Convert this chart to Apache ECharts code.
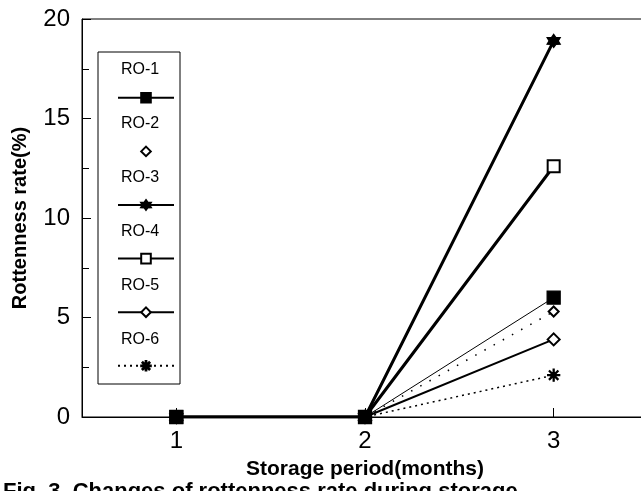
<!DOCTYPE html>
<html>
<head>
<meta charset="utf-8">
<script src="https://cdn.jsdelivr.net/npm/echarts@6/dist/echarts.min.js"></script>
<style>
  html, body { margin: 0; padding: 0; background: #fff; }
  #chart { width: 641px; height: 491px; }
</style>
</head>
<body>
<div id="chart"></div>
<script>
// Storage period in months
const months = [1, 2, 3];
// Rottenness rate (%) per sample
const seriesNames = ['RO-1', 'RO-2', 'RO-3', 'RO-4', 'RO-5', 'RO-6'];
const ro1 = [0, 0, 6.0];
const ro2 = [0, 0, 5.3];
const ro3 = [0, 0, 18.9];
const ro4 = [0, 0, 12.6];
const ro5 = [0, 0, 3.9];
const ro6 = [0, 0, 2.1];
const yTicks = [0, 5, 10, 15, 20];
const xTicks = [1, 2, 3];
const caption = 'Fig. 3  Changes of rottenness rate during storage';

const FONT = '"Liberation Sans", Arial, sans-serif';
const INK = '#000';

const starPath = 'path://M10 0L13 4.8L18.66 5L16 10L18.66 15L13 15.2L10 20L7 15.2L1.34 15L4 10L1.34 5L7 4.8Z';
const asteriskPath = 'path://M0 9.2H20V10.8H0Z M9.2 0H10.8V20H9.2Z ' +
  'M3.5 2.36L17.64 16.5L16.5 17.64L2.36 3.5Z M17.64 3.5L3.5 17.64L2.36 16.5L16.5 2.36Z';

function pairs(vals) { return months.map((m, i) => [m, vals[i]]); }

const styles = [
  { data: ro1, symbol: 'rect', size: 13, width: 1, type: 'solid', z: 10 },
  { data: ro2, symbol: 'emptyDiamond', size: 10, width: 1.5, type: [1.5, 9], z: 3 },
  { data: ro3, symbol: starPath, size: 13, width: 3, type: 'solid', z: 4 },
  { data: ro4, symbol: 'emptyRect', size: 12, width: 3, type: 'solid', z: 5 },
  { data: ro5, symbol: 'emptyDiamond', size: 12, width: 2, type: 'solid', z: 6 },
  { data: ro6, symbol: asteriskPath, size: 12, width: 1.5, type: [2, 4], z: 7 }
];

const series = styles.map((s, i) => ({
  name: seriesNames[i],
  type: 'line',
  data: pairs(s.data),
  symbol: s.symbol,
  symbolSize: s.size,
  showAllSymbol: true,
  z: s.z,
  lineStyle: { color: INK, width: s.width, type: s.type },
  itemStyle: { color: INK, borderColor: INK, borderWidth: 1.3 },
  emphasis: { disabled: true },
  animation: false
}));

// Legend names drawn above each legend icon, inside a framed box
const legendTop = 97, legendStep = 54;
const legendGraphics = [{
  type: 'rect',
  shape: { x: 98, y: 52, width: 82, height: 332 },
  style: { fill: 'none', stroke: INK, lineWidth: 1 },
  silent: true
}];
seriesNames.forEach((n, i) => {
  legendGraphics.push({
    type: 'text',
    x: 140, y: legendTop + i * legendStep - 27,
    style: { text: n, font: '16px ' + FONT, fill: INK, textAlign: 'center', textVerticalAlign: 'middle' },
    silent: true
  });
});
legendGraphics.push({
  type: 'text',
  x: 3, y: 481,
  style: { text: caption, font: 'bold 22px ' + FONT, fill: INK, textAlign: 'left', textVerticalAlign: 'top' },
  silent: true
});

const chart = echarts.init(document.getElementById('chart'), null, { renderer: 'canvas' });
chart.setOption({
  backgroundColor: '#fff',
  animation: false,
  grid: {
    left: 82, top: 19, right: -7, bottom: 74,
    outerBoundsMode: 'none', containLabel: false,
    show: true, borderColor: INK, borderWidth: 1, backgroundColor: 'transparent'
  },
  legend: {
    orient: 'vertical',
    left: 112, top: legendTop - 10,
    itemWidth: 56, itemHeight: 12, itemGap: legendStep - 12,
    formatter: () => '',
    textStyle: { fontSize: 1, lineHeight: 1 },
    selectedMode: false,
    data: seriesNames.map((n, i) => i === 1 ? { name: n, lineStyle: { opacity: 0 } } : { name: n })
  },
  xAxis: {
    type: 'value', min: 0.5, max: 3.5, interval: 0.5,
    name: 'Storage period(months)', nameLocation: 'middle', nameGap: 42,
    nameTextStyle: { fontFamily: FONT, fontWeight: 'bold', fontSize: 21, color: INK },
    axisLine: { show: true, lineStyle: { color: INK, width: 1 } },
    axisTick: { show: true, inside: true, length: 9, customValues: xTicks, lineStyle: { color: INK } },
    axisLabel: { customValues: xTicks, margin: 12, fontFamily: FONT, fontSize: 24, color: INK },
    splitLine: { show: false }
  },
  yAxis: {
    type: 'value', min: 0, max: 20, interval: 5,
    name: 'Rottenness rate(%)', nameLocation: 'middle', nameGap: 52,
    nameTextStyle: { fontFamily: FONT, fontWeight: 'bold', fontSize: 20, color: INK },
    axisLine: { show: true, lineStyle: { color: INK, width: 1 } },
    axisTick: { show: true, inside: true, length: 9, customValues: yTicks, lineStyle: { color: INK } },
    minorTick: { show: true, splitNumber: 2, length: 7, lineStyle: { color: INK } },
    axisLabel: { customValues: yTicks, margin: 12, fontFamily: FONT, fontSize: 24, color: INK },
    splitLine: { show: false }
  },
  graphic: legendGraphics,
  series: series
});
</script>
</body>
</html>
